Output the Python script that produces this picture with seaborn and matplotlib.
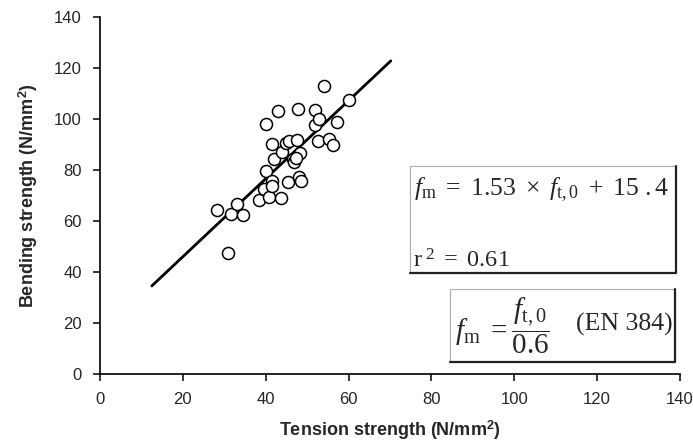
import matplotlib
matplotlib.use('Agg')
import pandas as pd
import matplotlib.pyplot as plt
import seaborn as sns
import numpy as np
from matplotlib.patches import Rectangle
from matplotlib.lines import Line2D

# data
tension = [28.3, 31.6, 33.1, 34.6, 30.8, 38.5, 39.6, 40.1, 40.1, 40.9,
           41.4, 41.4, 41.5, 41.9, 43.0, 43.6, 43.9, 44.9, 45.4, 45.6,
           46.6, 46.9, 47.5, 47.9, 48.0, 48.2, 47.3, 48.4, 51.8, 52.0,
           52.9, 52.7, 54.0, 55.3, 56.3, 57.3, 60.1]
bending = [64.2, 62.6, 66.6, 62.4, 47.6, 68.2, 72.5, 79.6, 98.2, 69.5,
           75.6, 73.8, 90.2, 84.4, 103.1, 69.1, 87.0, 90.6, 75.1, 91.3,
           84.5, 83.2, 91.7, 103.9, 77.1, 86.5, 84.9, 75.5, 97.5, 103.7,
           100.1, 91.5, 112.8, 92.0, 90.0, 98.8, 107.3]

slope = 1.53
intercept = 15.4
fit_x = [12.5, 70.2]
ticks = [0, 20, 40, 60, 80, 100, 120, 140]

df = pd.DataFrame({'tension': tension, 'bending': bending})
fit = pd.DataFrame({'x': fit_x})
fit['y'] = slope * fit['x'] + intercept

sns.set_style("ticks")
plt.rcParams['font.family'] = ['Liberation Sans', 'DejaVu Sans']
plt.rcParams['mathtext.fontset'] = 'custom'
plt.rcParams['mathtext.rm'] = 'Liberation Serif'
plt.rcParams['mathtext.it'] = 'Liberation Serif:italic'

fig = plt.figure(figsize=(6.93, 4.46), dpi=100)
ax = fig.add_axes([100 / 693, 1 - 374 / 446, 580 / 693, 357 / 446])

sns.lineplot(data=fit, x='x', y='y', ax=ax, color='black', linewidth=2, zorder=2)
sns.scatterplot(data=df, x='tension', y='bending', ax=ax, s=75,
                facecolor='white', edgecolor='black', linewidth=1.1, zorder=3)

ax.set_xlim(0, 140)
ax.set_ylim(0, 140)
ax.set_xticks(ticks)
ax.set_yticks(ticks)
ax.tick_params(labelsize=12, length=5, width=1.1, color='black', pad=8)
for s in ['left', 'bottom']:
    ax.spines[s].set_linewidth(1.2)
    ax.spines[s].set_color('black')
sns.despine(ax=ax)
ax.set_xlabel('Tension strength (N/mm$^\\mathregular{2}$)', fontsize=13, fontweight='bold', labelpad=8)
ax.set_ylabel('Bending strength (N/mm$^\\mathregular{2}$)', fontsize=13, fontweight='bold', labelpad=10)


def box(x0, y0, x1, y1):
    # pixel coords, origin top-left
    fx0, fx1 = x0 / 693, x1 / 693
    fy0, fy1 = 1 - y1 / 446, 1 - y0 / 446
    fig.patches.append(Rectangle((fx0, fy0), fx1 - fx0, fy1 - fy0, transform=fig.transFigure,
                                 facecolor='white', edgecolor='#aaaaaa', linewidth=0.8, zorder=4))
    fig.lines.append(Line2D([fx1, fx1, fx0], [fy1, fy0, fy0], transform=fig.transFigure,
                            color='#222222', linewidth=1.6, zorder=5))


box(410, 166, 676, 273)
box(450, 289, 675, 362)

fig.text(414 / 693, 1 - 190 / 446, r'$f_{\mathrm{m}}\ =\ 1.53\ \times\ f_{\mathrm{t,0}}\ +\ 15\ .4$',
         fontsize=18.5, va='center', ha='left', zorder=6)
fig.text(413 / 693, 1 - 261 / 446, r'$\mathrm{r}^{\ 2}\ =\ 0.61$',
         fontsize=17.5, va='center', ha='left', zorder=6)
fig.text(455 / 693, 1 - 326 / 446, r'$f_{\mathrm{m}}\ = \dfrac{f_{\mathrm{t,0}}}{0.6}$',
         fontsize=21, va='center', ha='left', zorder=6)
fig.text(673 / 693, 1 - 324 / 446, '(EN 384)', family='Liberation Serif',
         fontsize=18.5, va='center', ha='right', zorder=6)

fig.savefig('out.png', dpi=100)
